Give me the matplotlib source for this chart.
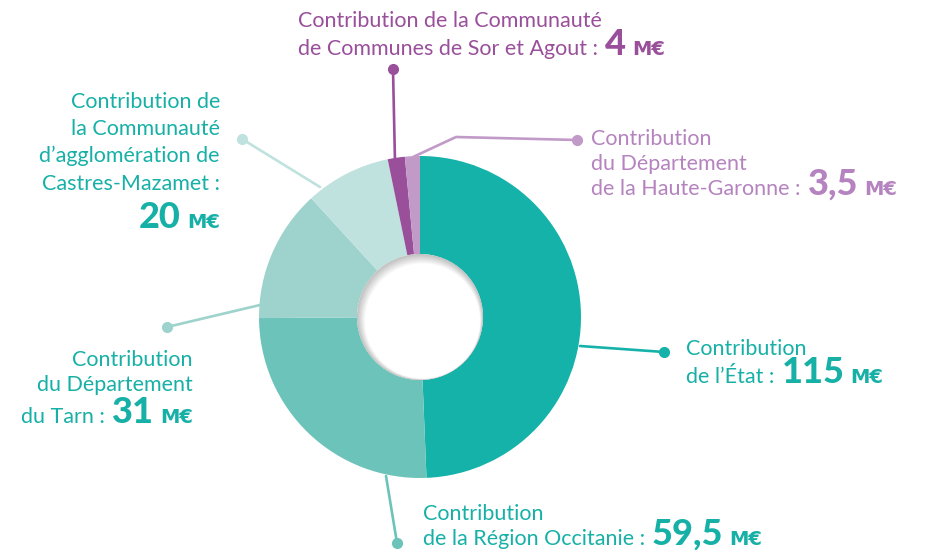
import matplotlib
matplotlib.use('Agg')
import matplotlib.pyplot as plt
from matplotlib.patches import Circle

# data, clockwise from 12 o'clock
names = ["Contribution de l'État",
         "Contribution de la Région Occitanie",
         "Contribution du Département du Tarn",
         "Contribution de la Communauté d'agglomération de Castres-Mazamet",
         "Contribution de la Communauté de Communes de Sor et Agout",
         "Contribution du Département de la Haute-Garonne"]
values = [115, 59.5, 31, 20, 4, 3.5]
value_labels = ['115', '59,5', '31', '20', '4', '3,5']
wedge_colors = ['#15b2aa', '#6cc3ba', '#9dd3cc', '#bfe2df', '#9a4f9b', '#c19ac8']

W, H = 937, 553
FONT = ['Lato', 'DejaVu Sans']
UNIT_FONT = ['DejaVu Sans']
TEAL = '#17b0a7'
PURPLE = '#9a4f9b'
LILAC = '#b583bf'

fig = plt.figure(figsize=(W / 100, H / 100), dpi=100)
ax = fig.add_axes([0, 0, 1, 1])

cx, cy, R, r_in = 420, H - 317, 161, 63
ax.pie(values, colors=wedge_colors, startangle=90, counterclock=False,
       radius=R, center=(cx, cy), wedgeprops=dict(width=R - r_in, linewidth=0))

# inner shadow of the hole
n = 10
for i in range(n + 1):
    f = i / n
    g = 0.76 + 0.24 * f
    ax.add_patch(Circle((cx + 0.25 * i, cy - 0.4 * i), r_in - 0.55 * i,
                        color=(g, g, g), lw=0, zorder=3))

ax.set_xlim(0, W)
ax.set_ylim(0, H)
ax.set_aspect('equal')
ax.axis('off')


def leader(pts, color):
    xs = [p[0] for p in pts]
    ys = [H - p[1] for p in pts]
    ax.plot(xs, ys, color=color, lw=1.9, solid_capstyle='round', zorder=4)
    ax.plot(xs[-1], ys[-1], 'o', ms=7, color=color, zorder=5)


leader([(580, 346), (664, 352)], wedge_colors[0])
leader([(386, 476), (397, 543)], wedge_colors[1])
leader([(260, 305), (167, 327)], wedge_colors[2])
leader([(320, 187), (242, 139)], wedge_colors[3])
leader([(395, 162), (393, 69)], wedge_colors[4])
leader([(413, 157), (456, 137), (577, 140)], wedge_colors[5])

renderer = fig.canvas.get_renderer()
BODY = 15.5
NUM = 26
UNIT = 14


def rich(x, y, parts, ha='left'):
    # parts: (text, size, weight, color, gap after, family)
    items = []
    for s, size, weight, color, gap, fam in parts:
        t = ax.text(0, H - y, s, fontsize=size, fontweight=weight, color=color,
                    family=fam, va='baseline', ha='left', zorder=6)
        items.append((t, gap))
    widths = [t.get_window_extent(renderer).width + gap for t, gap in items]
    x0 = x - sum(widths) + items[-1][1] if ha == 'right' else x
    for (t, gap), w in zip(items, widths):
        t.set_x(x0)
        x0 += w


def body(s, color, gap=0):
    return (s, BODY, 'normal', color, gap, FONT)


def num(s, color):
    return (s, NUM, 'black', color, 6, FONT)


def unit(color):
    return ('M€', UNIT, 'bold', color, 0, UNIT_FONT)


# État
rich(686, 355, [body('Contribution', TEAL)])
rich(686, 383, [body('de l\u2019État :', TEAL, 7), num(value_labels[0], TEAL), unit(TEAL)])
# Région
rich(423, 520, [body('Contribution', TEAL)])
rich(423, 545, [body('de la Région Occitanie :', TEAL, 7), num(value_labels[1], TEAL), unit(TEAL)])
# Tarn
rich(193, 366, [body('Contribution', TEAL)], ha='right')
rich(193, 391, [body('du Département', TEAL)], ha='right')
rich(193, 423, [body('du Tarn :', TEAL, 7), num(value_labels[2], TEAL), unit(TEAL)], ha='right')
# Castres
for yy, s in zip([108, 135, 162, 190],
                 ['Contribution de', 'la Communauté', 'd\u2019agglomération de', 'Castres-Mazamet :']):
    rich(220, yy, [body(s, TEAL)], ha='right')
rich(220, 228, [num(value_labels[3], TEAL), unit(TEAL)], ha='right')
# Sor et Agout
rich(298, 27, [body('Contribution de la Communauté', PURPLE)])
rich(298, 55, [body('de Communes de Sor et Agout :', PURPLE, 7), num(value_labels[4], PURPLE), unit(PURPLE)])
# Haute-Garonne
rich(591, 145, [body('Contribution', LILAC)])
rich(591, 170, [body('du Département', LILAC)])
rich(591, 195, [body('de la Haute-Garonne :', LILAC, 7), num(value_labels[5], LILAC), unit(LILAC)])

fig.savefig('out.png', dpi=100)
